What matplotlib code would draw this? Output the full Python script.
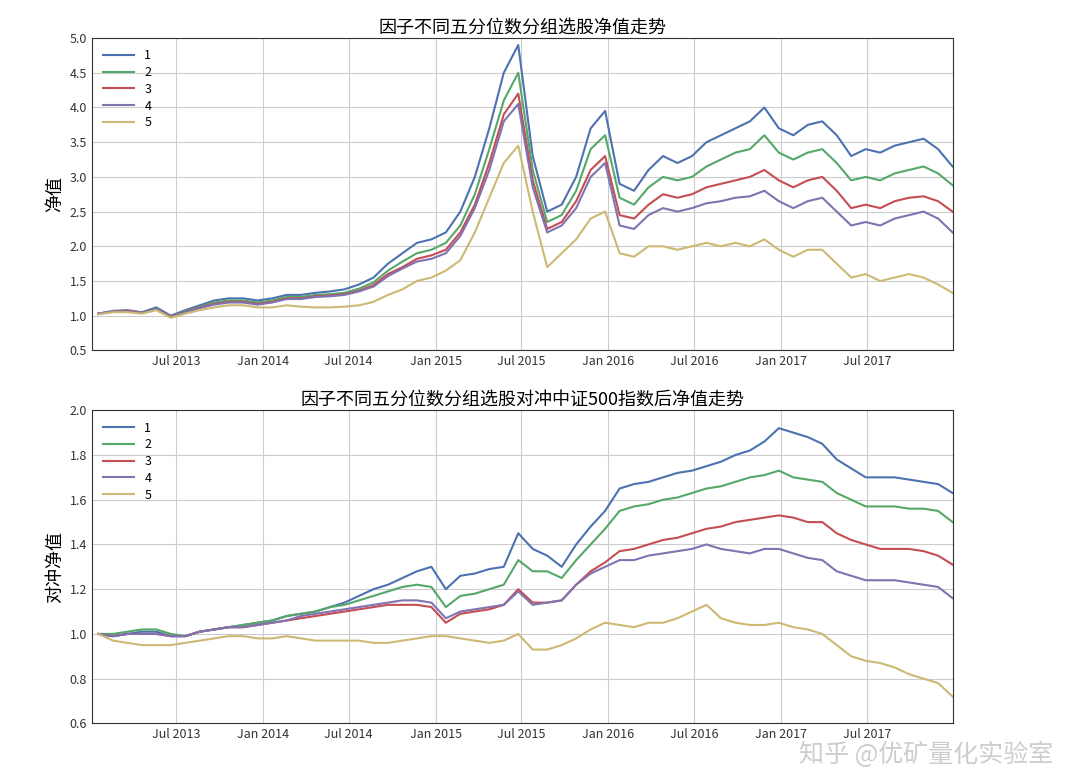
import matplotlib
matplotlib.use("Agg")
import matplotlib.pyplot as plt
import matplotlib.dates as mdates
import pandas as pd
import numpy as np

plt.rcParams['font.family'] = ['Noto Sans CJK SC', 'DejaVu Sans']

dates = pd.date_range('2013-01-18', '2017-12-29', periods=60)

top1 = [1.03,1.07,1.08,1.05,1.12,1.00,1.08,1.15,1.22,1.25,1.25,1.22,
        1.25,1.30,1.30,1.33,1.35,1.38,1.45,1.55,1.75,1.90,2.05,2.10,
        2.20,2.50,3.00,3.70,4.50,4.90,3.30,2.50,2.60,3.00,3.70,3.95,
        2.90,2.80,3.10,3.30,3.20,3.30,3.50,3.60,3.70,3.80,4.00,3.70,
        3.60,3.75,3.80,3.60,3.30,3.40,3.35,3.45,3.50,3.55,3.40,3.15]
top2 = [1.03,1.06,1.07,1.04,1.10,0.99,1.06,1.13,1.19,1.22,1.22,1.19,
        1.22,1.27,1.27,1.30,1.31,1.33,1.39,1.48,1.65,1.78,1.90,1.95,
        2.05,2.30,2.75,3.40,4.10,4.50,3.10,2.35,2.45,2.80,3.40,3.60,
        2.70,2.60,2.85,3.00,2.95,3.00,3.15,3.25,3.35,3.40,3.60,3.35,
        3.25,3.35,3.40,3.20,2.95,3.00,2.95,3.05,3.10,3.15,3.05,2.88]
top3 = [1.03,1.06,1.07,1.04,1.09,0.99,1.05,1.12,1.17,1.20,1.20,1.17,
        1.20,1.25,1.25,1.28,1.29,1.31,1.36,1.44,1.60,1.70,1.82,1.87,
        1.95,2.20,2.60,3.20,3.90,4.20,2.95,2.25,2.35,2.65,3.10,3.30,
        2.45,2.40,2.60,2.75,2.70,2.75,2.85,2.90,2.95,3.00,3.10,2.95,
        2.85,2.95,3.00,2.80,2.55,2.60,2.55,2.65,2.70,2.72,2.65,2.50]
top4 = [1.03,1.06,1.06,1.04,1.09,0.98,1.05,1.11,1.16,1.19,1.19,1.16,
        1.19,1.24,1.24,1.27,1.28,1.30,1.35,1.42,1.57,1.68,1.78,1.82,
        1.90,2.15,2.55,3.10,3.80,4.05,2.85,2.20,2.30,2.55,3.00,3.20,
        2.30,2.25,2.45,2.55,2.50,2.55,2.62,2.65,2.70,2.72,2.80,2.65,
        2.55,2.65,2.70,2.50,2.30,2.35,2.30,2.40,2.45,2.50,2.40,2.20]
top5 = [1.02,1.05,1.05,1.03,1.08,0.97,1.03,1.08,1.12,1.15,1.15,1.12,
        1.12,1.15,1.13,1.12,1.12,1.13,1.15,1.20,1.30,1.38,1.50,1.55,
        1.65,1.80,2.20,2.70,3.20,3.45,2.50,1.70,1.90,2.10,2.40,2.50,
        1.90,1.85,2.00,2.00,1.95,2.00,2.05,2.00,2.05,2.00,2.10,1.95,
        1.85,1.95,1.95,1.75,1.55,1.60,1.50,1.55,1.60,1.55,1.45,1.33]

bot1 = [1.00,0.99,1.00,1.01,1.01,0.99,0.99,1.01,1.02,1.03,1.04,1.05,
        1.06,1.08,1.09,1.10,1.12,1.14,1.17,1.20,1.22,1.25,1.28,1.30,
        1.20,1.26,1.27,1.29,1.30,1.45,1.38,1.35,1.30,1.40,1.48,1.55,
        1.65,1.67,1.68,1.70,1.72,1.73,1.75,1.77,1.80,1.82,1.86,1.92,
        1.90,1.88,1.85,1.78,1.74,1.70,1.70,1.70,1.69,1.68,1.67,1.63]
bot2 = [1.00,1.00,1.01,1.02,1.02,1.00,0.99,1.01,1.02,1.03,1.04,1.05,
        1.06,1.08,1.09,1.10,1.12,1.13,1.15,1.17,1.19,1.21,1.22,1.21,
        1.12,1.17,1.18,1.20,1.22,1.33,1.28,1.28,1.25,1.33,1.40,1.47,
        1.55,1.57,1.58,1.60,1.61,1.63,1.65,1.66,1.68,1.70,1.71,1.73,
        1.70,1.69,1.68,1.63,1.60,1.57,1.57,1.57,1.56,1.56,1.55,1.50]
bot3 = [1.00,0.99,1.00,1.00,1.00,0.99,0.99,1.01,1.02,1.03,1.03,1.04,
        1.05,1.06,1.07,1.08,1.09,1.10,1.11,1.12,1.13,1.13,1.13,1.12,
        1.05,1.09,1.10,1.11,1.13,1.20,1.14,1.14,1.15,1.22,1.28,1.32,
        1.37,1.38,1.40,1.42,1.43,1.45,1.47,1.48,1.50,1.51,1.52,1.53,
        1.52,1.50,1.50,1.45,1.42,1.40,1.38,1.38,1.38,1.37,1.35,1.31]
bot4 = [1.00,0.99,1.00,1.00,1.00,0.99,0.99,1.01,1.02,1.03,1.03,1.04,
        1.05,1.06,1.08,1.09,1.10,1.11,1.12,1.13,1.14,1.15,1.15,1.14,
        1.07,1.10,1.11,1.12,1.13,1.19,1.13,1.14,1.15,1.22,1.27,1.30,
        1.33,1.33,1.35,1.36,1.37,1.38,1.40,1.38,1.37,1.36,1.38,1.38,
        1.36,1.34,1.33,1.28,1.26,1.24,1.24,1.24,1.23,1.22,1.21,1.16]
bot5 = [1.00,0.97,0.96,0.95,0.95,0.95,0.96,0.97,0.98,0.99,0.99,0.98,
        0.98,0.99,0.98,0.97,0.97,0.97,0.97,0.96,0.96,0.97,0.98,0.99,
        0.99,0.98,0.97,0.96,0.97,1.00,0.93,0.93,0.95,0.98,1.02,1.05,
        1.04,1.03,1.05,1.05,1.07,1.10,1.13,1.07,1.05,1.04,1.04,1.05,
        1.03,1.02,1.00,0.95,0.90,0.88,0.87,0.85,0.82,0.80,0.78,0.72]

labels = ['1', '2', '3', '4', '5']
colors = ['#4C72B0', '#55A868', '#C44E52', '#8172B2', '#CCB974']

fig = plt.figure(figsize=(10.8, 7.77), dpi=100)
ax1 = fig.add_axes([0.085, 0.549, 0.797, 0.402])
ax2 = fig.add_axes([0.085, 0.069, 0.797, 0.403])

for ax, series, title, ylabel, ylim, step in [
        (ax1, [top1, top2, top3, top4, top5], '因子不同五分位数分组选股净值走势', '净值', (0.5, 5.0), 0.5),
        (ax2, [bot1, bot2, bot3, bot4, bot5], '因子不同五分位数分组选股对冲中证500指数后净值走势', '对冲净值', (0.6, 2.0), 0.2)]:
    for s, lab, c in zip(series, labels, colors):
        ax.plot(dates, s, color=c, lw=1.5, label=lab)
    ax.set_xlim(pd.Timestamp('2013-01-04'), pd.Timestamp('2017-12-29'))
    ax.set_ylim(*ylim)
    ax.set_yticks(np.arange(ylim[0], ylim[1] + 1e-9, step))
    ax.xaxis.set_major_locator(mdates.MonthLocator(bymonth=[1, 7]))
    ax.xaxis.set_major_formatter(mdates.DateFormatter('%b %Y'))
    ax.grid(True, color='#cccccc', lw=0.8)
    ax.set_axisbelow(True)
    for sp in ax.spines.values():
        sp.set_color('#333333')
    ax.tick_params(labelsize=9, length=0, colors='#333333')
    ax.set_title(title, fontsize=13, pad=4)
    ax.set_ylabel(ylabel, fontsize=13)
    ax.legend(loc='upper left', frameon=False, fontsize=9, handlelength=2.5, labelspacing=0.3)

fig.text(0.975, 0.028, '知乎 @优矿量化实验室', ha='right', va='center', fontsize=18,
         color='#c8c8c8', alpha=0.9)
fig.savefig('out.png')
